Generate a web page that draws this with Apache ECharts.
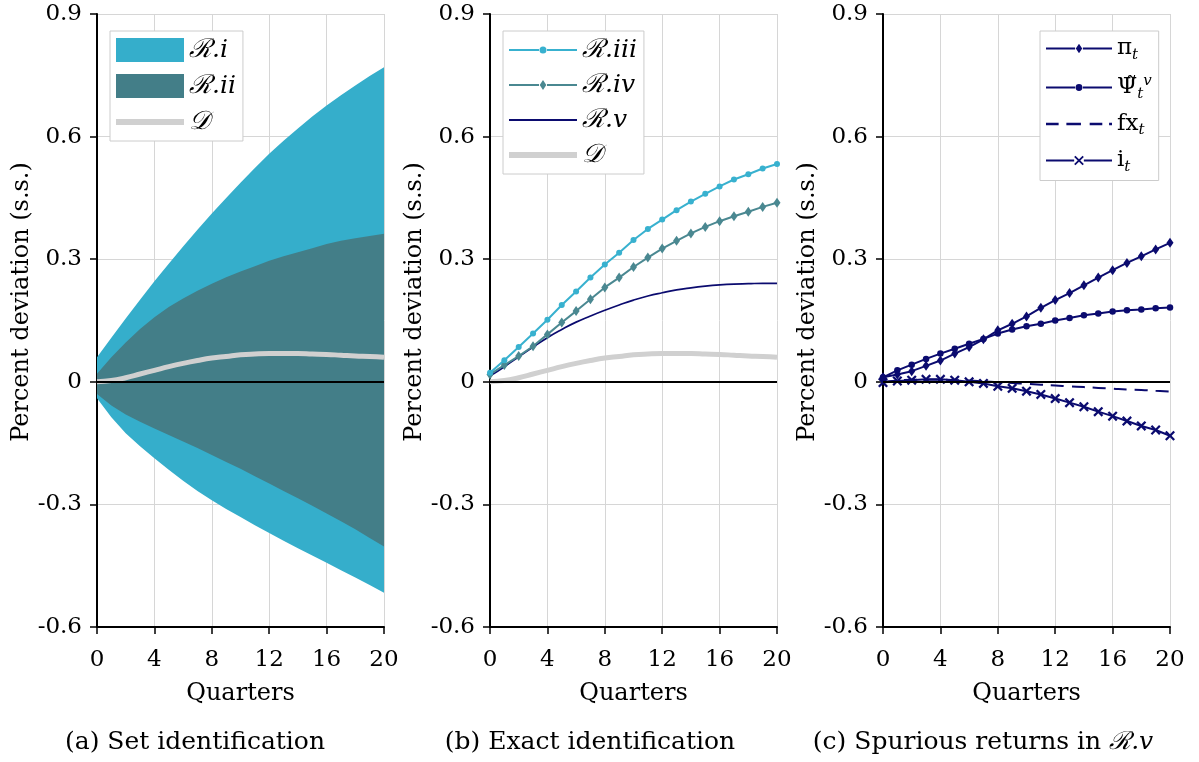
<!DOCTYPE html>
<html>
<head>
<meta charset="utf-8">
<script src="https://cdn.jsdelivr.net/npm/echarts@6/dist/echarts.min.js"></script>
<style>
html,body{margin:0;padding:0;background:#fff;}
#c{width:1199px;height:762px;}
</style>
</head>
<body>
<div id="c"></div>
<script>
// ---------- data ----------
const quarters = [0,1,2,3,4,5,6,7,8,9,10,11,12,13,14,15,16,17,18,19,20];
const xTicks = [0,4,8,12,16,20];
const yTicks = [-0.6,-0.3,0,0.3,0.6,0.9];

// Panel (a) set identification bands
const Ri_upper = [0.06,0.108,0.155,0.201,0.246,0.289,0.331,0.372,0.412,0.45,0.487,0.523,0.558,0.59,0.62,0.649,0.676,0.701,0.725,0.748,0.77];
const Ri_lower = [-0.04,-0.087,-0.126,-0.158,-0.187,-0.215,-0.242,-0.267,-0.29,-0.311,-0.331,-0.351,-0.37,-0.389,-0.407,-0.425,-0.443,-0.461,-0.479,-0.497,-0.516];
const Rii_upper = [0.02,0.06,0.096,0.129,0.158,0.183,0.204,0.223,0.24,0.256,0.27,0.283,0.296,0.307,0.317,0.327,0.337,0.345,0.351,0.357,0.362];
const Rii_lower = [-0.03,-0.058,-0.08,-0.098,-0.114,-0.13,-0.146,-0.162,-0.179,-0.196,-0.213,-0.231,-0.249,-0.267,-0.285,-0.303,-0.322,-0.341,-0.361,-0.382,-0.403];
const D_line = [0.0,0.003,0.01,0.019,0.028,0.037,0.045,0.052,0.058,0.062,0.066,0.068,0.069,0.069,0.069,0.068,0.067,0.065,0.063,0.062,0.06];

// Panel (b) exact identification
const Riii = [0.022,0.053,0.085,0.118,0.152,0.188,0.221,0.255,0.287,0.316,0.347,0.374,0.397,0.42,0.441,0.46,0.478,0.495,0.508,0.522,0.533];
const Riv = [0.018,0.041,0.063,0.087,0.116,0.145,0.173,0.202,0.231,0.255,0.281,0.304,0.326,0.345,0.363,0.379,0.393,0.405,0.416,0.428,0.438];
const Rv = [0.014,0.037,0.061,0.085,0.108,0.128,0.146,0.161,0.175,0.188,0.2,0.21,0.218,0.225,0.23,0.234,0.237,0.239,0.24,0.241,0.241];

// Panel (c) spurious returns in R.v
const pi_t = [0.011,0.018,0.026,0.039,0.052,0.069,0.085,0.104,0.126,0.142,0.16,0.181,0.2,0.217,0.236,0.255,0.273,0.291,0.307,0.324,0.34];
const psi_t = [0.011,0.028,0.042,0.056,0.069,0.081,0.093,0.105,0.118,0.128,0.136,0.142,0.15,0.156,0.163,0.167,0.172,0.175,0.177,0.18,0.182];
const fx_t = [0.0,0.003,0.005,0.005,0.005,0.004,0.003,0.001,-0.001,-0.003,-0.005,-0.007,-0.009,-0.011,-0.013,-0.015,-0.017,-0.019,-0.02,-0.022,-0.024];
const i_t = [-0.002,0.002,0.004,0.006,0.006,0.004,0.0,-0.004,-0.011,-0.016,-0.023,-0.031,-0.041,-0.051,-0.061,-0.073,-0.084,-0.096,-0.108,-0.118,-0.132];

const captions = ['(a) Set identification','(b) Exact identification','(c) Spurious returns in '];
const yName = 'Percent deviation (s.s.)';
const xName = 'Quarters';

// ---------- styling ----------
const FONT = 'DejaVu Serif';
const C_BLUE = '#35aecb';
const C_TEAL = '#437e88';
const C_GRAY = '#d0d0d0';
const C_CYAN = '#38b1cf';
const C_TEAL2 = '#4a8891';
const C_NAVY = '#0b0b6f';
const X_SHAPE = 'path://M0,1.6 L1.6,0 L5,3.4 L8.4,0 L10,1.6 L6.6,5 L10,8.4 L8.4,10 L5,6.6 L1.6,10 L0,8.4 L3.4,5 Z';

// legend icons (line + marker), drawn as filled paths
const IC_D = 'path://M0,0 L68,0 L68,6 L0,6 Z';
const IC_LINE = 'path://M0,0 L68,0 L68,2 L0,2 Z';
const IC_CIRC = 'path://M0,4 L30,4 L30,6 L0,6 Z M38,4 L68,4 L68,6 L38,6 Z M30.5,5 A3.5,3.5 0 1 0 37.5,5 A3.5,3.5 0 1 0 30.5,5 Z';
const IC_DIAM = 'path://M0,4 L30,4 L30,6 L0,6 Z M38,4 L68,4 L68,6 L38,6 Z M34,0 L37.3,5 L34,10 L30.7,5 Z';
const IC_X = 'path://M0,4 L29,4 L29,6 L0,6 Z M39,4 L68,4 L68,6 L39,6 Z M29,1.3 L30.3,0 L34,3.7 L37.7,0 L39,1.3 L35.3,5 L39,8.7 L37.7,10 L34,6.3 L30.3,10 L29,8.7 L32.7,5 Z';
const IC_DASH = 'path://M0,0 L13,0 L13,2.4 L0,2.4 Z M21,0 L36,0 L36,2.4 L21,2.4 Z M45,0 L58,0 L58,2.4 L45,2.4 Z M65,0 L68,0 L68,2.4 L65,2.4 Z';

const pair = arr => quarters.map((q,i)=>[q,arr[i]]);

const lefts = [97,490,883];
const W = 287, TOP = 14, H = 613;

const grids = lefts.map(l=>({left:l, top:TOP, width:W, height:H}));
const xAxes = lefts.map((l,k)=>({
  type:'value', gridIndex:k, min:0, max:20, interval:4,
  name:xName, nameLocation:'middle', nameGap:55,
  nameTextStyle:{fontFamily:FONT, fontSize:24, color:'#000'},
  axisLine:{show:true, onZero:false, lineStyle:{color:'#000', width:2}},
  axisTick:{show:true, length:7, lineStyle:{color:'#000', width:1.5}},
  axisLabel:{margin:22, fontFamily:FONT, fontSize:23, color:'#000'},
  splitLine:{show:true, lineStyle:{color:'#d6d6d6', width:1}}
}));
const yAxes = lefts.map((l,k)=>({
  type:'value', gridIndex:k, min:-0.6, max:0.9, interval:0.3,
  axisLine:{show:true, onZero:false, lineStyle:{color:'#000', width:2}},
  axisTick:{show:true, length:7, lineStyle:{color:'#000', width:1.5}},
  axisLabel:{margin:15, fontFamily:FONT, fontSize:23, color:'#000',
    formatter:v=>{const r=Math.round(v*10)/10; return r===0?'0':r.toFixed(1);}},
  splitLine:{show:true, lineStyle:{color:'#d6d6d6', width:1}}
}));

const zeroLine = {silent:true, symbol:'none', label:{show:false},
  lineStyle:{color:'#000', width:2, type:'solid'}, data:[{yAxis:0}]};

function band(name, upper, lower, color){
  return {
    name, type:'custom', xAxisIndex:0, yAxisIndex:0, data:[[0,0]],
    encode:{x:0, y:1}, itemStyle:{color}, silent:true,
    renderItem:(params, api)=>{
      const pts = [];
      quarters.forEach((q,i)=>pts.push(api.coord([q, upper[i]])));
      for(let i=quarters.length-1;i>=0;i--) pts.push(api.coord([quarters[i], lower[i]]));
      return {type:'polygon', shape:{points:pts}, style:{fill:color, stroke:null}};
    }
  };
}

const series = [
  // panel a
  band('Ri', Ri_upper, Ri_lower, C_BLUE),
  band('Rii', Rii_upper, Rii_lower, C_TEAL),
  {name:'D', type:'line', xAxisIndex:0, yAxisIndex:0, data:pair(D_line), smooth:true, z:3,
   symbol:'none', itemStyle:{color:C_GRAY}, lineStyle:{color:C_GRAY, width:5}, markLine:zeroLine},
  // panel b
  {name:'Db', type:'line', xAxisIndex:1, yAxisIndex:1, data:pair(D_line), smooth:true,
   symbol:'none', itemStyle:{color:C_GRAY}, lineStyle:{color:C_GRAY, width:5}, markLine:zeroLine},
  {name:'Rv', type:'line', xAxisIndex:1, yAxisIndex:1, data:pair(Rv), smooth:true,
   symbol:'none', itemStyle:{color:C_NAVY}, lineStyle:{color:C_NAVY, width:1.7}},
  {name:'Riv', type:'line', xAxisIndex:1, yAxisIndex:1, data:pair(Riv),
   symbol:'diamond', symbolSize:[7,10], itemStyle:{color:C_TEAL2}, lineStyle:{color:C_TEAL2, width:2}},
  {name:'Riii', type:'line', xAxisIndex:1, yAxisIndex:1, data:pair(Riii),
   symbol:'circle', symbolSize:6, itemStyle:{color:C_CYAN}, lineStyle:{color:C_CYAN, width:2}},
  // panel c
  {name:'fx', type:'line', xAxisIndex:2, yAxisIndex:2, data:pair(fx_t), smooth:true,
   symbol:'none', itemStyle:{color:C_NAVY}, lineStyle:{color:C_NAVY, width:2, type:[13,8]}, markLine:zeroLine},
  {name:'it', type:'line', xAxisIndex:2, yAxisIndex:2, data:pair(i_t),
   symbol:X_SHAPE, symbolSize:10, itemStyle:{color:C_NAVY}, lineStyle:{color:C_NAVY, width:2}},
  {name:'psi', type:'line', xAxisIndex:2, yAxisIndex:2, data:pair(psi_t),
   symbol:'circle', symbolSize:6.5, itemStyle:{color:C_NAVY}, lineStyle:{color:C_NAVY, width:2}},
  {name:'pi', type:'line', xAxisIndex:2, yAxisIndex:2, data:pair(pi_t),
   symbol:'diamond', symbolSize:[7,10], itemStyle:{color:C_NAVY}, lineStyle:{color:C_NAVY, width:2}}
];

const richBase = {
  c:{fontFamily:FONT, fontSize:26, fontStyle:'italic', color:'#000', lineHeight:26},
  i:{fontFamily:FONT, fontSize:25, fontStyle:'italic', color:'#000', lineHeight:26},
  m:{fontFamily:FONT, fontSize:23, color:'#000', lineHeight:28},
  s:{fontFamily:FONT, fontSize:15, fontStyle:'italic', color:'#000', lineHeight:10, verticalAlign:'bottom'},
  p:{fontFamily:FONT, fontSize:15, fontStyle:'italic', color:'#000', lineHeight:12, verticalAlign:'top'}
};
const legendLabels = {
  Ri:'{c|ℛ}{i|.i}', Rii:'{c|ℛ}{i|.ii}', D:'{c|𝒟}', Db:'{c|𝒟}',
  Riii:'{c|ℛ}{i|.iii}', Riv:'{c|ℛ}{i|.iv}', Rv:'{c|ℛ}{i|.v}',
  pi:'{m|π}{s|t}', psi:'{m|Ψ̃}{s|t}{p|v}', fx:'{m|fx}{s|t}', it:'{m|i}{s|t}'
};
const legendCommon = {
  orient:'vertical', backgroundColor:'#fff', borderColor:'#cccccc', borderWidth:1,
  borderRadius:0, itemWidth:68, itemHeight:24, itemGap:9, padding:[6,7,6,6],
  selectedMode:false, symbolKeepAspect:true,
  formatter:n=>legendLabels[n],
  textStyle:{fontFamily:FONT, fontSize:22, color:'#000', rich:richBase}
};
const legends = [
  Object.assign({}, legendCommon, {left:110, top:31, itemGap:10, data:[
    {name:'Ri', icon:'rect', itemStyle:{color:C_BLUE}},
    {name:'Rii', icon:'rect', itemStyle:{color:C_TEAL}},
    {name:'D', icon:IC_D, itemStyle:{color:C_GRAY}}
  ]}),
  Object.assign({}, legendCommon, {left:503, top:31, data:[
    {name:'Riii', icon:IC_CIRC}, {name:'Riv', icon:IC_DIAM},
    {name:'Rv', icon:IC_LINE}, {name:'Db', icon:IC_D}]}),
  Object.assign({}, legendCommon, {left:1040, top:31, itemWidth:66, itemGap:11, data:[
    {name:'pi', icon:IC_DIAM}, {name:'psi', icon:IC_CIRC},
    {name:'fx', icon:IC_DASH}, {name:'it', icon:IC_X}]})
];

const capX = [195, 590, 983];
const richCap = {n:{fontFamily:FONT, fontSize:25}, c:{fontFamily:FONT, fontSize:25, fontStyle:'italic'}, i:{fontFamily:FONT, fontSize:25, fontStyle:'italic'}};
const graphicEls = captions.map((t,k)=>({
  type:'text', x:capX[k], y:742, silent:true,
  style:{text: k===2 ? '{n|'+t+'}{c|ℛ}{i|.v}' : t, fontFamily:FONT, fontSize:25, fill:'#000',
    align:'center', verticalAlign:'middle', rich:richCap}
})).concat(lefts.map(l=>({
  type:'text', x:l-75, y:302, rotation:Math.PI/2, silent:true,
  style:{text:yName, fontFamily:FONT, fontSize:24, fill:'#000', align:'center', verticalAlign:'middle'}
})));

const chart = echarts.init(document.getElementById('c'), null, {renderer:'canvas'});
chart.setOption({
  animation:false,
  backgroundColor:'#fff',
  grid:grids, xAxis:xAxes, yAxis:yAxes, legend:legends, series:series,
  graphic:{elements:graphicEls}
});
</script>
</body>
</html>
